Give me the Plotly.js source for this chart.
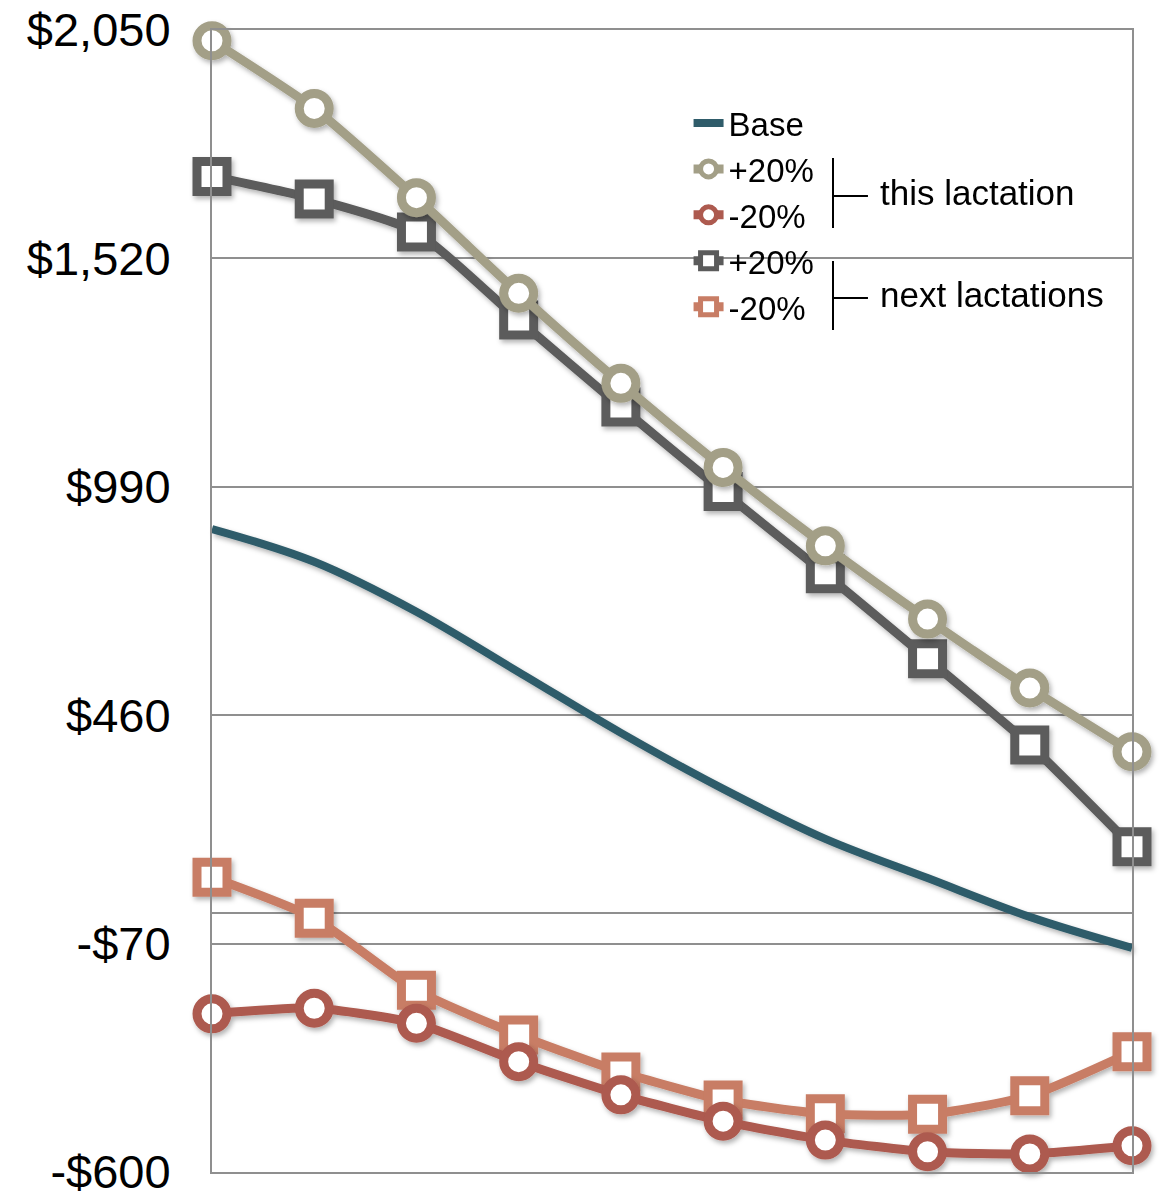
<!DOCTYPE html>
<html>
<head>
<meta charset="utf-8">
<script src="https://cdn.plot.ly/plotly-3.0.1.min.js"></script>
<style>
  html, body { margin: 0; padding: 0; background: #ffffff; }
  #chart { width: 1170px; height: 1196px; }
</style>
</head>
<body>
<div id="chart"></div>
<script>
// Periods along the horizontal axis (no labels shown)
const periods = [1, 2, 3, 4, 5, 6, 7, 8, 9, 10];

// Value series, in dollars
const base = [892, 816, 700, 560, 419, 289, 173, 82, -8, -80];
const thisPlus20 = [2025, 1868, 1661, 1439, 1230, 1035, 853, 683, 523, 375];
const thisMinus20 = [-233, -220, -255, -344, -421, -482, -526, -553, -558, -539];
const nextPlus20 = [1710, 1658, 1581, 1377, 1175, 979, 788, 591, 391, 155];
const nextMinus20 = [84, -11, -178, -282, -368, -433, -465, -466, -423, -321];

// Y axis ticks
const yTickVals = [-600, -70, 460, 990, 1520, 2050];
const yTickText = ['-$600', '-$70', '$460', '$990', '$1,520', '$2,050'];

// Legend labels and bracket captions
const seriesNames = ['Base', '+20%', '-20%', '+20%', '-20%'];
const groupLabels = ['this lactation', 'next lactations'];

const FONT = 'Liberation Sans, Arial, Helvetica, sans-serif';
const GRID = '#8f8f8f';

const C_BASE = '#2f5c6a';
const C_THIS_P = '#a39f87';
const C_THIS_M = '#ad5a4f';
const C_NEXT_P = '#5b5b5b';
const C_NEXT_M = '#c87d65';

function markerSeries(name, y, color, symbol, rank) {
  return {
    x: periods, y: y, name: name, type: 'scatter', mode: 'lines+markers',
    legendrank: rank, cliponaxis: false,
    line: { color: color, width: 9, shape: 'spline', smoothing: 0.6 },
    marker: { symbol: symbol, size: 30, color: '#ffffff', line: { color: color, width: 9 } }
  };
}

const traces = [
  {
    x: periods, y: base, name: seriesNames[0], type: 'scatter', mode: 'lines',
    legendrank: 1, cliponaxis: false,
    line: { color: C_BASE, width: 8, shape: 'spline', smoothing: 1 }
  },
  markerSeries(seriesNames[3], nextPlus20, C_NEXT_P, 'square', 4),
  markerSeries(seriesNames[4], nextMinus20, C_NEXT_M, 'square', 5),
  markerSeries(seriesNames[1], thisPlus20, C_THIS_P, 'circle', 2),
  markerSeries(seriesNames[2], thisMinus20, C_THIS_M, 'circle', 3)
];

// Bracket geometry (paper coordinates)
const bx = 0.675, bx2 = 0.713;
const brackets = [
  { top: 0.8879, bottom: 0.8266, mid: 0.8546 },
  { top: 0.7977, bottom: 0.7373, mid: 0.7653 }
];
const shapes = [];
brackets.forEach(b => {
  shapes.push({ type: 'line', xref: 'paper', yref: 'paper', x0: bx, x1: bx, y0: b.bottom, y1: b.top,
                line: { color: '#000000', width: 2 } });
  shapes.push({ type: 'line', xref: 'paper', yref: 'paper', x0: bx, x1: bx2, y0: b.mid, y1: b.mid,
                line: { color: '#000000', width: 2 } });
});

const annotations = groupLabels.map((t, i) => ({
  text: t, xref: 'paper', yref: 'paper', x: bx2 + 0.011, y: brackets[i].mid + 0.003,
  xanchor: 'left', yanchor: 'middle', showarrow: false,
  font: { family: FONT, size: 35, color: '#000000' }
}));

const layout = {
  width: 1170, height: 1196,
  margin: { l: 212, r: 38, t: 30, b: 24, pad: 0 },
  paper_bgcolor: '#ffffff', plot_bgcolor: '#ffffff',
  font: { family: FONT, color: '#000000' },
  showlegend: true,
  legend: {
    x: 0.518, y: 0.943, xanchor: 'left', yanchor: 'top',
    bgcolor: 'rgba(0,0,0,0)', borderwidth: 0,
    font: { family: FONT, size: 33, color: '#000000' },
    tracegroupgap: 0
  },
  xaxis: {
    range: [1, 10], showgrid: false, zeroline: false, showticklabels: false, ticks: '',
    showline: true, mirror: true, linecolor: GRID, linewidth: 2, fixedrange: true
  },
  yaxis: {
    range: [-600, 2050], tickvals: yTickVals, ticktext: yTickText,
    showgrid: true, gridcolor: GRID, gridwidth: 2,
    zeroline: true, zerolinecolor: GRID, zerolinewidth: 2,
    showline: true, mirror: true, linecolor: GRID, linewidth: 2,
    ticks: '', ticklabelstandoff: 30, ticklabeloverflow: 'allow',
    tickfont: { family: FONT, size: 47, color: '#000000' }, fixedrange: true
  },
  shapes: shapes,
  annotations: annotations
};

Plotly.newPlot('chart', traces, layout, { displayModeBar: false, staticPlot: true }).then(gd => {
  // soft drop shadow under the plotted series
  const svg = gd.querySelector('.main-svg');
  const NS = 'http://www.w3.org/2000/svg';
  let defs = svg.querySelector('defs');
  if (!defs) { defs = document.createElementNS(NS, 'defs'); svg.insertBefore(defs, svg.firstChild); }
  const f = document.createElementNS(NS, 'filter');
  f.setAttribute('id', 'seriesShadow');
  f.setAttribute('x', '-20%'); f.setAttribute('y', '-20%');
  f.setAttribute('width', '140%'); f.setAttribute('height', '140%');
  const ds = document.createElementNS(NS, 'feDropShadow');
  ds.setAttribute('dx', '2'); ds.setAttribute('dy', '3');
  ds.setAttribute('stdDeviation', '2.5'); ds.setAttribute('flood-color', '#000000');
  ds.setAttribute('flood-opacity', '0.3');
  f.appendChild(ds); defs.appendChild(f);
  gd.querySelectorAll('.scatterlayer .trace').forEach(g => g.setAttribute('filter', 'url(#seriesShadow)'));
});
</script>
</body>
</html>
